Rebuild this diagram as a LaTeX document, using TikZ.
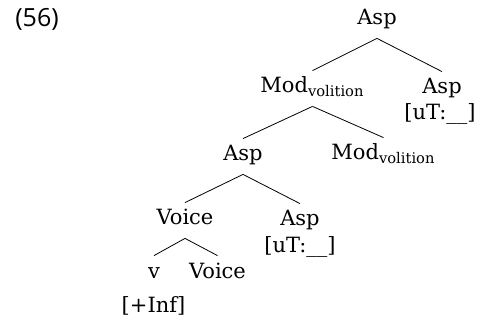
\documentclass[tikz,border=0pt]{standalone}
\usepackage{fontspec}
\setmainfont{DejaVu Serif}
\newfontfamily\exnumfont{Open Sans}
\usetikzlibrary{positioning}

\tikzset{
	lbl/.style={anchor=base,inner sep=3pt,text height=8pt,text depth=3.5pt,font=\fontsize{10.5}{13}\selectfont},
	feat/.style={anchor=base,inner sep=0pt,font=\fontsize{10.5}{13}\selectfont}
}

\begin{document}
\begin{tikzpicture}[x=0.5pt,y=-0.5pt]
	\useasboundingbox (0,0) rectangle (481,320);
	\node[anchor=base,inner sep=0pt,font=\exnumfont\fontsize{12.5}{15}\selectfont] (exnum) at (37,27) {(56)};
	% top level
	\node[lbl] (asp) at (377,25) {Asp};
	\node[lbl] (modvol) at (312.5,93) {Mod\textsubscript{volition}};
	\node[lbl] (aspR) at (442,94) {Asp};
	\node[feat] (aspRf) at (440,120) {[uT:\_\_]};
	% middle level
	\node[lbl] (aspM) at (243,161) {Asp};
	\node[lbl] (modvolR) at (383.5,160) {Mod\textsubscript{volition}};
	\node[lbl] (voiceU) at (185,225) {Voice};
	\node[lbl] (aspL) at (300,226) {Asp};
	\node[feat] (aspLf) at (300,252) {[uT:\_\_]};
	% bottom
	\node[lbl] (v) at (154,278) {v};
	\node[lbl] (voiceL) at (217.5,278) {Voice};
	\node[feat] (inf) at (153.5,312) {[+Inf]};
	\draw (asp.south) -- (modvol.north);
	\draw (asp.south) -- (aspR.north);
	\draw (modvol.south) -- (aspM.north);
	\draw (modvol.south) -- (modvolR.north);
	\draw (aspM.south) -- (voiceU.north);
	\draw (aspM.south) -- (aspL.north);
	\draw (voiceU.south) -- (v.north);
	\draw (voiceU.south) -- (voiceL.north);
\end{tikzpicture}
\end{document}
